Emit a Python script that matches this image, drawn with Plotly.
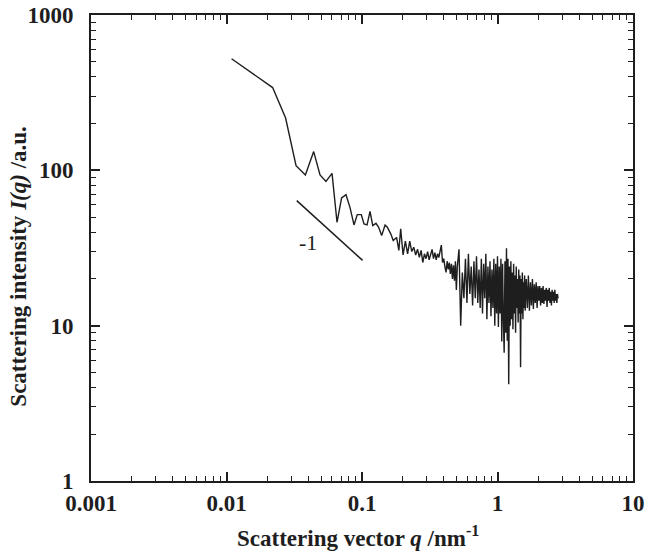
import math
import plotly.graph_objects as go

# ---- data ----
q_low = [0.0109, 0.0219, 0.0273, 0.0326, 0.0382, 0.0440, 0.0490, 0.0542, 0.0601, 0.0654,
         0.0707, 0.0762, 0.0815, 0.0873, 0.0923, 0.0988, 0.1035, 0.1090, 0.1146, 0.1200,
         0.1268, 0.1327, 0.1397, 0.1480, 0.1538, 0.1630, 0.1700, 0.1800, 0.1870]
i_low = [523, 341, 217, 107, 93.3, 132, 93.3, 84.9, 95.5, 46.3,
         66.4, 69.7, 57.8, 44.5, 51.9, 51.9, 45.2, 44.5, 54.5, 44.1,
         45.6, 43, 38, 44.5, 43, 39, 35.3, 37, 30.5]

q_mid = [0.193, 0.201, 0.209, 0.217, 0.225, 0.233, 0.241, 0.249, 0.257, 0.265,
         0.273, 0.281, 0.289, 0.297, 0.305, 0.313, 0.321, 0.329, 0.337, 0.345,
         0.353, 0.361, 0.369, 0.377, 0.385, 0.393, 0.401, 0.409, 0.417, 0.425,
         0.433, 0.441, 0.449, 0.457, 0.465, 0.473, 0.481, 0.489, 0.497]
i_mid = [42, 28.5, 35, 29, 35, 30, 32, 28.5, 31, 27.5,
         30.5, 25.5, 29, 27, 30, 26.5, 29.5, 31, 27, 29.5,
         26.5, 29, 27.5, 30, 33, 25.5, 27, 24, 22, 26,
         23, 25.5, 21.5, 25, 20, 24.5, 19.5, 26, 17]

q_high = [0.505, 0.520, 0.535, 0.550, 0.565, 0.580, 0.595, 0.610, 0.625, 0.640,
          0.655, 0.670, 0.685, 0.700, 0.715, 0.730, 0.745, 0.760, 0.775, 0.790,
          0.805, 0.820, 0.835, 0.850, 0.865, 0.880, 0.895, 0.910, 0.925, 0.940,
          0.955, 0.970, 0.985, 1.000, 1.015, 1.030, 1.045, 1.060, 1.075, 1.090,
          1.105, 1.120, 1.135, 1.150, 1.165, 1.180, 1.195, 1.210, 1.225, 1.240,
          1.255, 1.270, 1.285, 1.300, 1.315, 1.330, 1.345, 1.360, 1.375, 1.390,
          1.405, 1.420, 1.435, 1.450, 1.465, 1.480, 1.495, 1.510, 1.525, 1.540,
          1.555, 1.570, 1.585, 1.600]
i_high = [24, 31, 10, 22, 15, 27, 14, 29, 16, 24,
          13.5, 26, 15, 28, 14, 23, 13, 27, 12, 25,
          15, 29, 11, 24, 14, 26, 11.5, 23, 13, 27,
          10, 25, 12, 28, 9.8, 24, 12, 27, 7.9, 25,
          11, 6.7, 26, 9, 31.5, 8, 27, 4.2, 24, 10,
          26, 11, 22, 9.5, 25, 12, 21, 9, 24, 13,
          20, 10.5, 23, 12, 21, 5.4, 20, 12, 22, 11,
          19, 13, 21, 12.5]

q_tail = [1.63, 1.66, 1.69, 1.72, 1.75, 1.78, 1.81, 1.84, 1.87, 1.90,
          1.93, 1.96, 1.99, 2.02, 2.05, 2.08, 2.11, 2.14, 2.17, 2.20,
          2.23, 2.26, 2.29, 2.32, 2.35, 2.38, 2.41, 2.44, 2.47, 2.50,
          2.53, 2.56, 2.59, 2.62, 2.65, 2.68, 2.71, 2.74, 2.77, 2.80]
i_tail = [20, 13, 21, 12.5, 19, 13.5, 20, 12.8, 18.5, 14,
          19, 13, 18, 14.5, 18, 13.5, 17.5, 14, 18, 13.8,
          17, 14.5, 17.5, 13.2, 17, 14.5, 17.5, 14, 16.5, 13.5,
          17, 14.5, 16.5, 14, 17, 14.5, 16, 14, 16, 15]

slope_q = [0.033, 0.101]
slope_i = [63.8, 26.3]
slope_label = "-1"
slope_label_q = 0.0402
slope_label_i = 34.4

x_tickvals = [0.001, 0.01, 0.1, 1, 10]
x_ticktext = ["0.001", "0.01", "0.1", "1", "10"]
y_tickvals = [1, 10, 100, 1000]
y_ticktext = ["1", "10", "100", "1000"]

x_title = "Scattering vector <i>q</i> /nm<sup>-1</sup>"
y_title = "Scattering intensity <i>I(q)</i> /a.u."

q_all = q_low + q_mid + q_high + q_tail
i_all = i_low + i_mid + i_high + i_tail

FONT = "Liberation Serif"
INK = "#1e1e1e"

fig = go.Figure()
fig.add_trace(go.Scatter(x=q_all, y=i_all, mode="lines",
                         line=dict(color=INK, width=1.4), showlegend=False))
fig.add_trace(go.Scatter(x=slope_q, y=slope_i, mode="lines",
                         line=dict(color=INK, width=1.5), showlegend=False))
# annotations on log axes are placed in log10 units
fig.add_annotation(x=math.log10(slope_label_q), y=math.log10(slope_label_i),
                   xref="x", yref="y", text=slope_label, showarrow=False,
                   font=dict(family=FONT, size=22, color=INK))

def minor_vals(lo, hi):
    vals = []
    d = lo
    while d < hi:
        for m in range(2, 10):
            vals.append(m * d)
        d *= 10
    return vals

axis_common = dict(
    type="log", showgrid=False, zeroline=False, automargin=False,
    showline=True, linecolor=INK, linewidth=2, mirror="ticks",
    ticks="inside", ticklen=9, tickwidth=1.5, tickcolor=INK,
    tickfont=dict(family=FONT, size=23, color=INK, weight="bold"),
)

fig.update_xaxes(**axis_common, range=[-3, 1], tickmode="array",
                 tickvals=x_tickvals, ticktext=x_ticktext, ticklabelstandoff=0,
                 minor=dict(ticks="inside", ticklen=5, tickwidth=1.2, tickcolor=INK,
                            tickmode="array", tickvals=minor_vals(0.001, 10), showgrid=False))
fig.update_yaxes(**axis_common, range=[0, 3], tickmode="array",
                 tickvals=y_tickvals, ticktext=y_ticktext, ticklabelstandoff=11,
                 minor=dict(ticks="inside", ticklen=5, tickwidth=1.2, tickcolor=INK,
                            tickmode="array", tickvals=minor_vals(1, 1000), showgrid=False))

# axis titles placed as paper annotations
fig.add_annotation(x=0.493, y=0, xref="paper", yref="paper", yshift=-55,
                   text=x_title, showarrow=False, xanchor="center", yanchor="middle",
                   font=dict(family=FONT, size=23, color=INK, weight="bold"))
fig.add_annotation(x=0, y=0.46, xref="paper", yref="paper", xshift=-72,
                   text=y_title, showarrow=False, textangle=-90,
                   xanchor="center", yanchor="middle",
                   font=dict(family=FONT, size=23, color=INK, weight="bold"))

fig.update_layout(width=649, height=553, plot_bgcolor="white", paper_bgcolor="white",
                  margin=dict(l=91, r=16, t=15, b=72))

# remove the page's default body margin so the figure sits at the window's top-left
fig.write_html("out.html", config={"displayModeBar": False},
               post_script="document.body.style.margin='0';document.body.style.overflow='hidden';")
